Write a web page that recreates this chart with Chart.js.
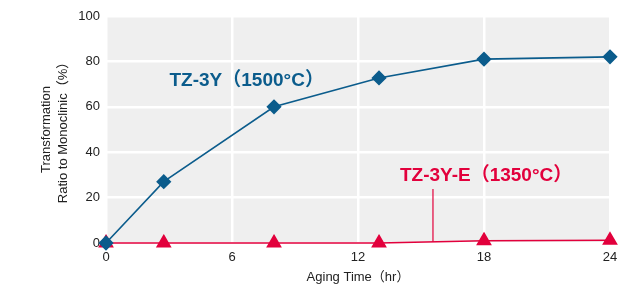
<!DOCTYPE html>
<html>
<head>
<meta charset="utf-8">
<script src="https://cdn.jsdelivr.net/npm/chart.js@4"></script>
<style>
  html, body { margin: 0; padding: 0; background: #fff; }
  #wrap { width: 634px; height: 287px; }
</style>
</head>
<body>
<div id="wrap"><canvas id="agingChart"></canvas></div>
<script>
const agingHours = [0, 2.75, 8, 13, 18, 24];
const tz3y = [0, 27, 60, 72.7, 81, 82];
const tz3yE = [0, 0, 0, 0, 1, 1.2];
const xTicks = [0, 6, 12, 18, 24];
const yTicks = [0, 20, 40, 60, 80, 100];

const BLUE = '#0b5c8c';
const RED = '#e2003c';
const LABEL_FONT = '"Liberation Sans", "Noto Sans CJK JP", sans-serif';

const toPoints = (xs, ys) => xs.map((x, i) => ({ x: x, y: ys[i] }));

// grey plot background + series labels
const plotDecor = {
  id: 'plotDecor',
  beforeDraw(chart) {
    const { ctx, chartArea: a } = chart;
    ctx.save();
    ctx.fillStyle = '#efefef';
    ctx.fillRect(a.left, a.top, a.right - a.left, a.bottom - a.top);
    ctx.restore();
  },
  afterDatasetsDraw(chart) {
    const { ctx } = chart;
    const x = chart.scales.x, y = chart.scales.y;
    ctx.save();
    ctx.font = 'bold 19px ' + LABEL_FONT;
    ctx.textAlign = 'center';
    ctx.textBaseline = 'middle';
    ctx.fillStyle = BLUE;
    ctx.fillText('TZ-3Y（1500°C）', x.getPixelForValue(6.7), y.getPixelForValue(71.5));
    ctx.fillStyle = RED;
    ctx.fillText('TZ-3Y-E（1350°C）', x.getPixelForValue(18.1), y.getPixelForValue(29.5));
    // leader line to the red series
    ctx.strokeStyle = RED;
    ctx.lineWidth = 1.2;
    ctx.beginPath();
    ctx.moveTo(x.getPixelForValue(15.57), y.getPixelForValue(23.8));
    ctx.lineTo(x.getPixelForValue(15.57), y.getPixelForValue(0.6));
    ctx.stroke();
    ctx.restore();
  }
};

new Chart(document.getElementById('agingChart'), {
  type: 'line',
  data: {
    datasets: [
      {
        label: 'TZ-3Y (1500°C)',
        data: toPoints(agingHours, tz3y),
        borderColor: BLUE,
        backgroundColor: BLUE,
        borderWidth: 1.6,
        pointStyle: 'rectRot',
        pointRadius: 6.5,
        pointHoverRadius: 6.5,
        tension: 0,
        clip: false
      },
      {
        label: 'TZ-3Y-E (1350°C)',
        data: toPoints(agingHours, tz3yE),
        borderColor: RED,
        backgroundColor: RED,
        borderWidth: 1.6,
        pointStyle: 'triangle',
        pointRadius: 7.5,
        pointHoverRadius: 7.5,
        tension: 0,
        clip: false
      }
    ]
  },
  options: {
    responsive: true,
    maintainAspectRatio: false,
    animation: false,
    layout: { padding: { top: 16, right: 24, left: 0, bottom: 0 } },
    plugins: {
      legend: { display: false },
      tooltip: { enabled: false }
    },
    scales: {
      x: {
        type: 'linear',
        min: 0,
        max: 24,
        afterBuildTicks: s => { s.ticks = xTicks.map(v => ({ value: v })); },
        afterFit: s => { s.height = 44; },
        border: { display: false },
        grid: { color: '#ffffff', lineWidth: 2.5, drawTicks: false },
        ticks: { color: '#222', font: { size: 13, family: LABEL_FONT }, padding: 7 },
        title: {
          display: true,
          text: 'Aging Time（hr）',
          color: '#222',
          font: { size: 13, family: LABEL_FONT },
          padding: { top: 0, bottom: 2 }
        }
      },
      y: {
        min: 0,
        max: 100,
        afterBuildTicks: s => { s.ticks = yTicks.map(v => ({ value: v })); },
        afterFit: s => { s.width = 106; },
        border: { display: false },
        grid: { color: '#ffffff', lineWidth: 2.5, drawTicks: false },
        ticks: { color: '#222', font: { size: 13, family: LABEL_FONT }, padding: 6 },
        title: {
          display: true,
          text: ['Transformation', 'Ratio to Monoclinic（%）'],
          color: '#222',
          font: { size: 13, family: LABEL_FONT, lineHeight: 1.3 },
          padding: { top: 38, bottom: 0 }
        }
      }
    }
  },
  plugins: [plotDecor]
});
</script>
</body>
</html>
